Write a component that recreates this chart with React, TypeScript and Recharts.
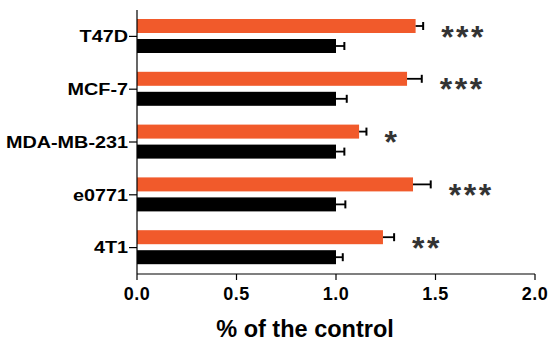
import { BarChart, Bar, XAxis, YAxis, LabelList, Label } from "recharts";

const categories = ["T47D", "MCF-7", "MDA-MB-231", "e0771", "4T1"];
const treated = [1.4, 1.357, 1.116, 1.387, 1.236];
const treatedErr = [0.038, 0.074, 0.037, 0.089, 0.056];
const control = [1.0, 1.0, 1.0, 1.0, 1.0];
const controlErr = [0.042, 0.054, 0.042, 0.047, 0.034];
const stars = ["***", "***", "*", "***", "**"];
const xTicks = [0, 0.5, 1.0, 1.5, 2.0];

const ORANGE = "#F15A2B";
const FONT = "'Liberation Sans', Arial, sans-serif";

const data = categories.map((name, i) => ({
  name,
  treated: treated[i],
  treatedErr: treatedErr[i],
  control: control[i],
  controlErr: controlErr[i],
  sig: stars[i],
}));

// bar plus one-sided error whisker (right side only)
const barWithErr = (valKey: string, errKey: string) => (props: any) => {
  const { x, y, width, height, fill, payload } = props;
  const v = payload[valKey];
  const e = payload[errKey];
  const ex = x + (width * (v + e)) / v;
  const cy = y + height / 2;
  return (
    <g>
      <rect x={x} y={y} width={width} height={height} fill={fill} />
      <line x1={x + width} x2={ex} y1={cy} y2={cy} stroke="#000" strokeWidth={1.8} />
      <line x1={ex} x2={ex} y1={cy - 4} y2={cy + 4} stroke="#000" strokeWidth={2} />
    </g>
  );
};

const StarLabel = (props: any) => {
  const { x, y, width, height, index, value } = props;
  const v = treated[index];
  const e = treatedErr[index];
  const ex = x + (width * (v + e)) / v;
  return (
    <text
      x={ex + 18}
      y={y + height / 2 + 3 + 18.5}
      fill="#333"
      fontFamily={FONT}
      fontWeight="bold"
      fontSize={32}
      letterSpacing={2.5}
    >
      {value}
    </text>
  );
};

const CatTick = ({ x, y, payload }: any) => (
  <g transform={`translate(${x},${y}) scale(1.2,1)`}>
    <text textAnchor="end" dy="0.355em" fill="#000" fontFamily={FONT} fontWeight="bold" fontSize={16.5}>
      {payload.value}
    </text>
  </g>
);

export default function App() {
  return (
    <div>
      <style>{`body{margin:0}`}</style>
      <BarChart
        width={553}
        height={345}
        data={data}
        layout="vertical"
        margin={{ top: 10, right: 18, bottom: 0, left: 0 }}
        barSize={14}
        barGap={6}
      >
        <XAxis
          type="number"
          domain={[0, 2]}
          ticks={xTicks}
          tickFormatter={(v: number) => v.toFixed(1)}
          height={71}
          tickSize={6}
          tickMargin={7}
          axisLine={{ stroke: "#000", strokeWidth: 1.2 }}
          tickLine={{ stroke: "#000", strokeWidth: 1.2 }}
          tick={{ fill: "#000", fontFamily: FONT, fontWeight: "bold", fontSize: 18, letterSpacing: 0.5 }}
        >
          <Label
            content={({ viewBox }: any) => (
              <text
                x={viewBox.x + viewBox.width / 2 - 31}
                y={viewBox.y + 63}
                textAnchor="middle"
                fill="#000"
                fontFamily={FONT}
                fontWeight="bold"
                fontSize={23.5}
              >
                % of the control
              </text>
            )}
          />
        </XAxis>
        <YAxis
          type="category"
          dataKey="name"
          width={137}
          tickSize={8}
          tickMargin={1}
          axisLine={{ stroke: "#000", strokeWidth: 1.2 }}
          tickLine={{ stroke: "#000", strokeWidth: 1.2 }}
          tick={<CatTick />}
        />
        <Bar dataKey="treated" fill={ORANGE} isAnimationActive={false} shape={barWithErr("treated", "treatedErr")}>
          <LabelList dataKey="sig" content={<StarLabel />} />
        </Bar>
        <Bar dataKey="control" fill="#000" isAnimationActive={false} shape={barWithErr("control", "controlErr")} />
      </BarChart>
    </div>
  );
}
